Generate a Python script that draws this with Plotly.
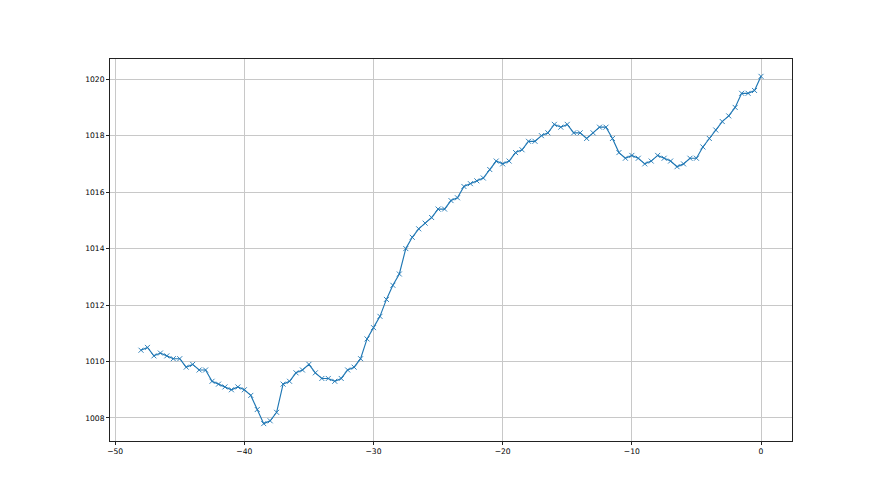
import plotly.graph_objects as go

x_start = -48.0
x_step = 0.5
pressure = [
    1010.4, 1010.5, 1010.2, 1010.3, 1010.2, 1010.1, 1010.1, 1009.8, 1009.9, 1009.7,
    1009.7, 1009.3, 1009.2, 1009.1, 1009.0, 1009.1, 1009.0, 1008.8, 1008.3, 1007.8,
    1007.9, 1008.2, 1009.2, 1009.3, 1009.6, 1009.7, 1009.9, 1009.6, 1009.4, 1009.4,
    1009.3, 1009.4, 1009.7, 1009.8, 1010.1, 1010.8, 1011.2, 1011.6, 1012.2, 1012.7,
    1013.1, 1014.0, 1014.4, 1014.7, 1014.9, 1015.1, 1015.4, 1015.4, 1015.7, 1015.8,
    1016.2, 1016.3, 1016.4, 1016.5, 1016.8, 1017.1, 1017.0, 1017.1, 1017.4, 1017.5,
    1017.8, 1017.8, 1018.0, 1018.1, 1018.4, 1018.3, 1018.4, 1018.1, 1018.1, 1017.9,
    1018.1, 1018.3, 1018.3, 1017.9, 1017.4, 1017.2, 1017.3, 1017.2, 1017.0, 1017.1,
    1017.3, 1017.2, 1017.1, 1016.9, 1017.0, 1017.2, 1017.2, 1017.6, 1017.9, 1018.2,
    1018.5, 1018.7, 1019.0, 1019.5, 1019.5, 1019.6, 1020.1,
]
hours = [x_start + i * x_step for i in range(len(pressure))]

x_ticks = [-50, -40, -30, -20, -10, 0]
y_ticks = [1008, 1010, 1012, 1014, 1016, 1018, 1020]

# matplotlib-like 5% margins
xmin, xmax = min(hours), max(hours)
ymin, ymax = min(pressure), max(pressure)
xpad = 0.05 * (xmax - xmin)
ypad = 0.05 * (ymax - ymin)

fig = go.Figure()
fig.add_trace(go.Scatter(
    x=hours, y=pressure, mode="lines+markers",
    line=dict(color="#1f77b4", width=1.15),
    marker=dict(symbol="x-thin", size=5, color="#1f77b4",
                line=dict(width=0.9, color="#1f77b4")),
    showlegend=False,
))

axis_common = dict(
    showline=True, linecolor="#222222", linewidth=1, mirror=True,
    showgrid=True, gridcolor="#c8c8c8", gridwidth=1,
    zeroline=False, ticks="outside", ticklen=3, tickwidth=0.8, tickcolor="#222222",
    tickfont=dict(family="DejaVu Sans", size=7.6, color="black"),
)

fig.update_layout(
    width=880, height=495,
    margin=dict(l=102, r=96, t=51, b=62),
    paper_bgcolor="white", plot_bgcolor="white",
    xaxis=dict(range=[xmin - xpad, xmax + xpad], tickvals=x_ticks, **axis_common),
    yaxis=dict(range=[ymin - ypad, ymax + ypad], tickvals=y_ticks, **axis_common),
)

fig.write_html("out.html")
